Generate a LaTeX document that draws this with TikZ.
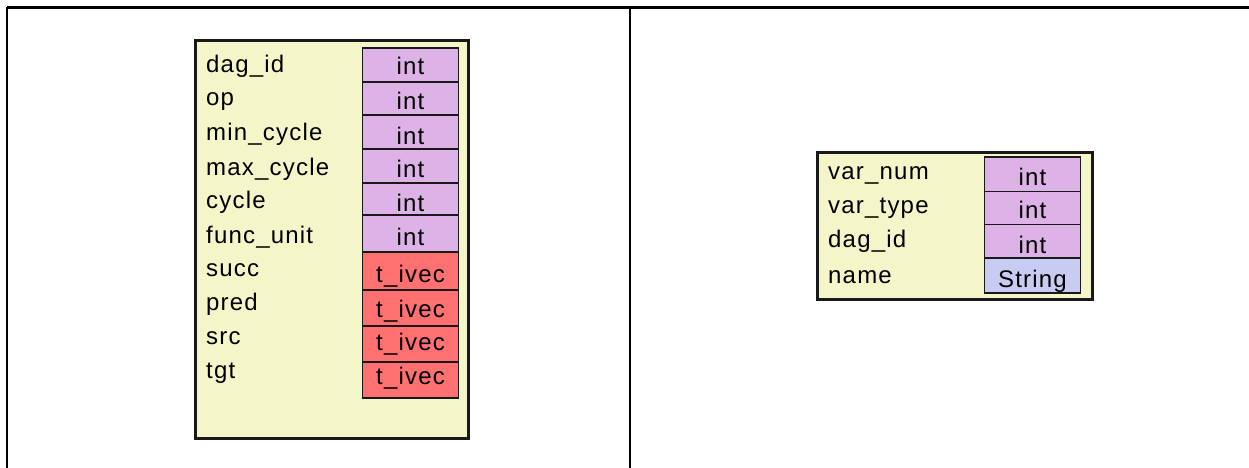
\documentclass[tikz,border=0pt]{standalone}
\usepackage{fontspec}
\newfontfamily\labfont[LetterSpace=5]{Liberation Sans}
\definecolor{boxfill}{RGB}{245,245,202}
\definecolor{intfill}{RGB}{221,178,230}
\definecolor{vecfill}{RGB}{255,112,112}
\definecolor{strfill}{RGB}{200,204,242}
\definecolor{edge}{RGB}{25,25,25}
\tikzset{
  frameline/.style={line width=2.4pt, black},
  classbox/.style={draw=edge, fill=boxfill, line width=3pt},
  typecell/.style={draw=edge, line width=1.8pt},
  lab/.style={anchor=base west, inner sep=0pt, font=\labfont\fontsize{24}{24}\selectfont, text=black},
  typ/.style={anchor=base, inner sep=0pt, font=\labfont\fontsize{24}{24}\selectfont, text=black}
}
\begin{document}
\begin{tikzpicture}[x=1pt,y=-1pt]
\useasboundingbox (0,0) rectangle (1249,468);
% outer table
\draw[frameline] (7,7.5) -- (1249,7.5);
\draw[frameline] (7,7.5) -- (7,468);
\draw[frameline] (630,7.5) -- (630,468);
% left class box
\path[classbox] (195,41) rectangle (468,438);
% cells of the left box
\foreach \ya/\yb/\c in {48/82/intfill,82/115/intfill,115/149/intfill,149/183/intfill,183/215/intfill,215/252/intfill,252/290/vecfill,290/326/vecfill,326/362/vecfill,362/398/vecfill}{
  \path[typecell, fill=\c] (362.5,\ya) rectangle (458.5,\yb);
}
\foreach \y/\t [count=\i] in {73/dag\_id,106/op,140/min\_cycle,175/max\_cycle,208/cycle,243/func\_unit,276/succ,310/pred,344/src,378/tgt}{
  \node[lab] (la\i) at (206,\y) {\t};
}
\foreach \y/\t [count=\i] in {75/int,110/int,144/int,177/int,211/int,245/int,282/t\_ivec,317/t\_ivec,350/t\_ivec,384/t\_ivec}{
  \node[typ] (ta\i) at (410.5,\y) {\t};
}
% right class box
\path[classbox] (817,152) rectangle (1092,299);
\foreach \ya/\yb/\c in {157/191.5/intfill,191.5/224.5/intfill,224.5/258/intfill,258/293/strfill}{
  \path[typecell, fill=\c] (984.5,\ya) rectangle (1080.5,\yb);
}
\foreach \y/\t [count=\i] in {179/var\_num,213/var\_type,247/dag\_id,283/name}{
  \node[lab] (lb\i) at (828,\y) {\t};
}
\foreach \y/\t [count=\i] in {185/int,218/int,253/int,287/String}{
  \node[typ] (tb\i) at (1032.5,\y) {\t};
}
\end{tikzpicture}
\end{document}
